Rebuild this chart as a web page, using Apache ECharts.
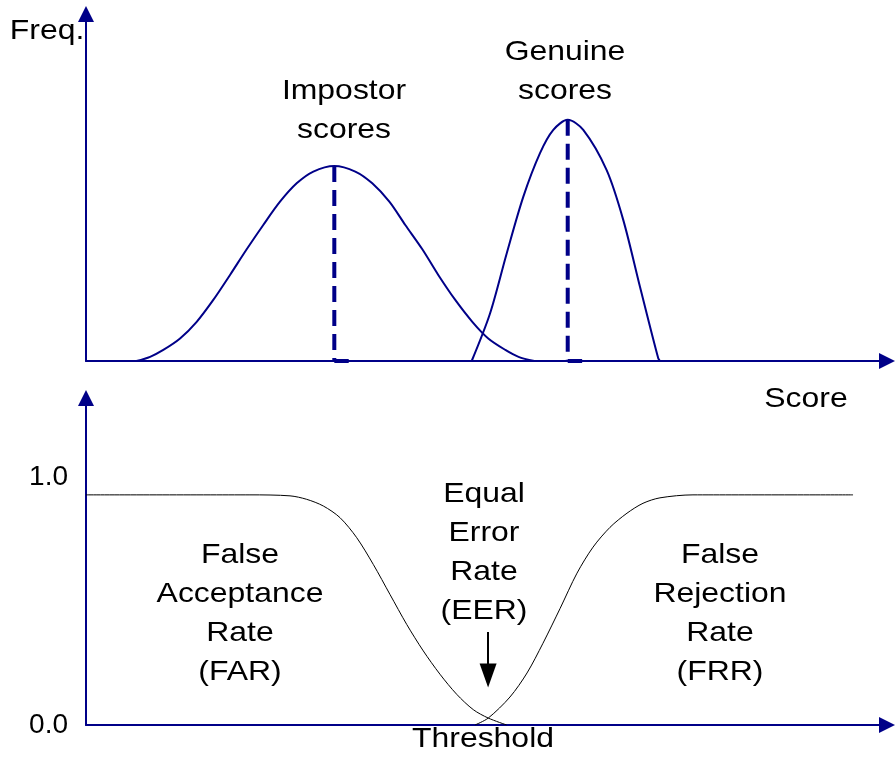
<!DOCTYPE html>
<html>
<head>
<meta charset="utf-8">
<script src="https://cdn.jsdelivr.net/npm/echarts@6/dist/echarts.min.js"></script>
<style>
html, body { margin:0; padding:0; background:#fff; }
#main { width:895px; height:758px; }
</style>
</head>
<body>
<div id="main"></div>
<script>
// score distributions (score 0-100, frequency 0-100)
var impostorScores = [[6.3,0],[8.0,1.2],[9.65,3.2],[11.74,6.5],[13.82,11.3],[15.89,17.6],[17.98,24.8],[20.06,32.2],[22.13,39.2],[24.22,45.9],[26.3,51.2],[28.38,54.6],[31.0,56.2],
	[33.62,54.6],[35.74,51.2],[37.87,45.9],[39.86,39.2],[41.99,32.2],[43.98,24.8],[46.1,17.6],[48.23,11.3],[50.22,6.5],[52.35,3.2],[54.0,1.2],[55.97,0]];
var genuineScores = [[48.15,0],[50.44,13.7],[52.52,31.0],[54.59,47.3],[56.68,59.9],[58.34,66.6],[60.14,69.5],[62.08,66.6],[65.0,55.0],[67.08,40.6],[69.16,21.4],[71.45,0.7],[71.66,0]];
var impostorMean = [31.0, 56.2];
var genuineMean = [60.14, 69.5];

// error rates (0-1)
var farRate = [[0,0.929],[20.47,0.929],[25.47,0.925],[27.55,0.911],[29.63,0.884],[31.71,0.837],[33.8,0.756],[35.87,0.648],[37.95,0.527],[40.04,0.406],[42.11,0.299],[44.19,0.205],[46.28,0.124],[48.35,0.062],[50.22,0.028],[52.52,0]];
var frrRate = [[48.56,0],[50.22,0.028],[52.93,0.113],[55.06,0.21],[57.05,0.33],[59.18,0.47],[61.3,0.613],[63.3,0.718],[65.42,0.798],[67.54,0.855],[69.54,0.895],[71.66,0.917],[75.78,0.929],[95.76,0.929]];
var eerScore = 50.2;
var rateTicks = [0, 1];

var navy = '#000088';
var fontName = '"Liberation Sans", Arial, sans-serif';

function axisArrow() {
	return {
		show: true,
		symbol: ['none', 'triangle'],
		symbolSize: [16, 16],
		lineStyle: { color: navy, width: 2 }
	};
}

function label(text, x, y) {
	return {
		type: 'text',
		x: x, y: y,
		scaleX: 1.14,
		style: {
			text: text,
			font: '28px ' + fontName,
			fill: '#000',
			textAlign: 'center',
			textVerticalAlign: 'middle',
			lineHeight: 39
		}
	};
}

var myChart = echarts.init(document.getElementById('main'));
var option = {
	animation: false,
	grid: [
		{ left: 86, right: 8, top: 14, bottom: 397 },
		{ left: 86, right: 8, top: 398, bottom: 33 }
	],
	xAxis: [
		{ gridIndex: 0, type: 'value', min: 0, max: 100, axisLine: axisArrow(), axisTick: { show: false }, axisLabel: { show: false }, splitLine: { show: false } },
		{ gridIndex: 1, type: 'value', min: 0, max: 100, axisLine: axisArrow(), axisTick: { show: false }, axisLabel: { show: false }, splitLine: { show: false } }
	],
	yAxis: [
		{ gridIndex: 0, type: 'value', min: 0, max: 100, axisLine: axisArrow(), axisTick: { show: false }, axisLabel: { show: false }, splitLine: { show: false } },
		{
			gridIndex: 1, type: 'value', min: 0, max: 1.32, interval: 1,
			axisLine: axisArrow(), axisTick: { show: false }, splitLine: { show: false },
			axisLabel: {
				margin: 18, color: '#000', fontSize: 28, fontFamily: fontName,
				formatter: function(v) {
					return rateTicks.indexOf(v) >= 0 ? v.toFixed(1) : '';
				}
			}
		}
	],
	series: [
		{
			type: 'line', xAxisIndex: 0, yAxisIndex: 0, data: impostorScores,
			smooth: 0.3, showSymbol: false, lineStyle: { color: navy, width: 2 }
		},
		{
			type: 'line', xAxisIndex: 0, yAxisIndex: 0, data: genuineScores,
			smooth: 0.3, showSymbol: false, lineStyle: { color: navy, width: 2 }
		},
		{
			type: 'line', xAxisIndex: 0, yAxisIndex: 0, data: [impostorMean, [impostorMean[0], 0]],
			showSymbol: false, lineStyle: { color: navy, width: 4, type: [16, 8] }
		},
		{
			type: 'line', xAxisIndex: 0, yAxisIndex: 0, data: [genuineMean, [genuineMean[0], 0]],
			showSymbol: false, lineStyle: { color: navy, width: 4, type: [16, 8] }
		},
		{
			type: 'line', xAxisIndex: 0, yAxisIndex: 0, data: [[impostorMean[0], 0], [impostorMean[0] + 1.8, 0]],
			showSymbol: false, lineStyle: { color: navy, width: 4 }
		},
		{
			type: 'line', xAxisIndex: 0, yAxisIndex: 0, data: [[genuineMean[0], 0], [genuineMean[0] + 1.8, 0]],
			showSymbol: false, lineStyle: { color: navy, width: 4 }
		},
		{
			type: 'line', xAxisIndex: 1, yAxisIndex: 1, data: farRate,
			smooth: 0.3, showSymbol: false, lineStyle: { color: '#000', width: 1 },
			markLine: {
				silent: true,
				symbol: ['none', 'triangle'],
				symbolSize: [17, 24],
				label: { show: false },
				lineStyle: { color: '#000', width: 2, type: 'solid' },
				data: [[{ coord: [eerScore, 0.375] }, { coord: [eerScore, 0.2] }]]
			}
		},
		{
			type: 'line', xAxisIndex: 1, yAxisIndex: 1, data: frrRate,
			smooth: 0.3, showSymbol: false, lineStyle: { color: '#000', width: 1 }
		}
	],
	graphic: [
		label('Freq.', 47, 31),
		label('Impostor\nscores', 344, 111),
		label('Genuine\nscores', 565, 72),
		label('Score', 806, 399),
		label('False\nAcceptance\nRate\n(FAR)', 240, 614),
		label('Equal\nError\nRate\n(EER)', 484, 553),
		label('False\nRejection\nRate\n(FRR)', 720, 614),
		label('Threshold', 483, 739)
	]
};
myChart.setOption(option);
</script>
</body>
</html>
